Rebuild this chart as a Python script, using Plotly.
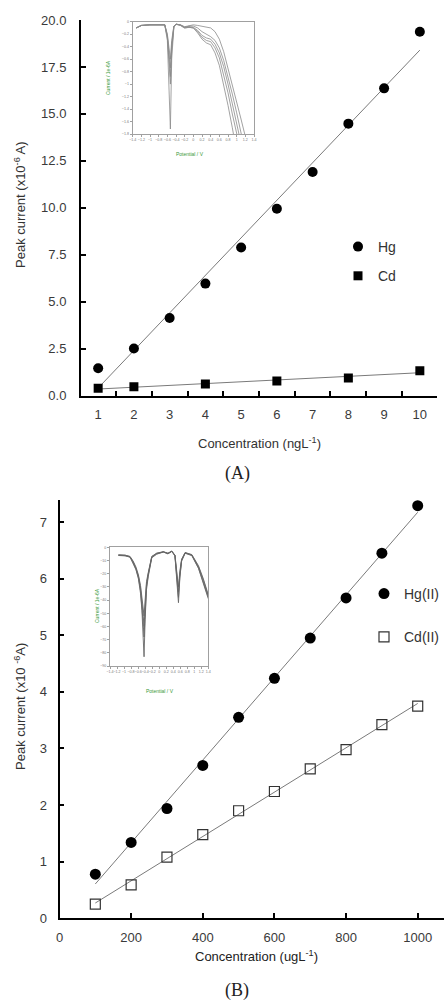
import numpy as np
import plotly.graph_objects as go

# ---------------- Panel A data ----------------
conc_a_hg = [1, 2, 3, 4, 5, 6, 7, 8, 9, 10]
peak_a_hg = [1.45, 2.50, 4.13, 5.96, 7.88, 9.95, 11.90, 14.48, 16.36, 19.37]
conc_a_cd = [1, 2, 4, 6, 8, 10]
peak_a_cd = [0.38, 0.47, 0.61, 0.77, 0.93, 1.32]
xticks_a = [1, 2, 3, 4, 5, 6, 7, 8, 9, 10]
yticks_a = [0.0, 2.5, 5.0, 7.5, 10.0, 12.5, 15.0, 17.5, 20.0]

# inset A (stripping voltammograms)
pot_a = [-1.32, -1.2, -1.0, -0.8, -0.66, -0.6, -0.56, -0.53, -0.5, -0.45, -0.4, -0.3, -0.2, -0.1,
         0.0, 0.1, 0.2, 0.3, 0.4, 0.5, 0.6, 0.7, 0.8, 0.9, 1.0, 1.1, 1.2, 1.3]
cur_a1 = [-0.10, -0.06, -0.05, -0.05, -0.05, -0.20, -0.48, -0.60, -0.30, -0.07, -0.04, -0.05, -0.08, -0.06,
          -0.05, -0.06, -0.07, -0.08, -0.10, -0.16, -0.28, -0.48, -0.74, -1.00, -1.28, -1.56, -1.84, -2.10]
cur_a2 = [-0.10, -0.06, -0.05, -0.05, -0.05, -0.22, -0.58, -0.74, -0.36, -0.07, -0.04, -0.05, -0.09, -0.07,
          -0.07, -0.10, -0.16, -0.20, -0.24, -0.30, -0.42, -0.62, -0.88, -1.16, -1.46, -1.78, -2.10, -2.10]
cur_a3 = [-0.10, -0.06, -0.05, -0.05, -0.05, -0.24, -0.66, -0.88, -0.42, -0.08, -0.04, -0.05, -0.09, -0.08,
          -0.09, -0.14, -0.22, -0.26, -0.28, -0.36, -0.50, -0.72, -1.00, -1.30, -1.62, -1.95, -2.10, -2.10]
cur_a4 = [-0.10, -0.06, -0.05, -0.05, -0.05, -0.26, -0.74, -1.00, -0.46, -0.08, -0.04, -0.06, -0.10, -0.09,
          -0.10, -0.16, -0.25, -0.30, -0.32, -0.42, -0.58, -0.84, -1.14, -1.48, -1.82, -2.10, -2.10, -2.10]
cur_a5 = [-0.10, -0.06, -0.05, -0.05, -0.05, -0.30, -0.95, -1.72, -0.60, -0.09, -0.04, -0.06, -0.10, -0.09,
          -0.10, -0.18, -0.28, -0.34, -0.37, -0.50, -0.70, -1.00, -1.34, -1.70, -2.10, -2.10, -2.10, -2.10]

# ---------------- Panel B data ----------------
conc_b = [100, 200, 300, 400, 500, 600, 700, 800, 900, 1000]
peak_b_hg = [0.78, 1.34, 1.94, 2.70, 3.55, 4.24, 4.95, 5.66, 6.45, 7.29]
peak_b_cd = [0.25, 0.59, 1.08, 1.48, 1.90, 2.24, 2.64, 2.98, 3.42, 3.75]
xticks_b = [0, 200, 400, 600, 800, 1000]
yticks_b = [0, 1, 2, 3, 4, 5, 6, 7]

# inset B
pot_b = [-1.16, -0.97, -0.83, -0.74, -0.66, -0.59, -0.53, -0.49, -0.46, -0.43, -0.40, -0.36, -0.31, -0.26,
         -0.21, -0.07, 0.02, 0.12, 0.25, 0.36, 0.45, 0.49, 0.55, 0.59, 0.64, 0.74, 0.93, 1.12, 1.26, 1.40]
cur_b1 = [-5.8, -6.0, -7.0, -10.5, -15, -21, -29, -37, -45, -52, -40, -26, -19, -12,
          -7, -4.5, -4.0, -3.5, -4.5, -3.0, -6.0, -17, -30, -18, -9.0, -4.0, -5.5, -14, -24, -36]
cur_b2 = [-5.8, -6.0, -7.0, -11, -16, -22, -31, -40, -50, -60, -44, -28, -20, -13,
          -7, -4.5, -4.0, -3.3, -4.5, -2.8, -6.0, -19, -34, -20, -9.5, -4.0, -5.8, -14.7, -25, -37]
cur_b3 = [-6.0, -6.3, -7.3, -11.5, -16.5, -23, -33, -44, -56, -68, -48, -30, -21, -13.5,
          -7.5, -5, -4.3, -3.5, -4.8, -3.0, -6.3, -21, -38, -22, -10, -4.3, -6, -15.5, -26, -38]
cur_b4 = [-6.2, -6.5, -7.5, -12, -17, -24, -35, -48, -64, -83, -55, -32, -22, -14,
          -8, -5.2, -4.5, -3.6, -5, -3.2, -6.5, -23, -42, -23, -10.5, -4.5, -6.3, -16, -27, -39]

W, H = 444, 1001


def px(x):
    return x / W


def py(y):
    return 1 - y / H


def fit(xs, ys):
    k, b = np.polyfit(xs, ys, 1)
    xx = np.array([min(xs), max(xs)], dtype=float)
    return xx, k * xx + b


fig = go.Figure()

LINE = dict(color="#7a7a7a", width=1)
SANS = "Liberation Sans, Arial, sans-serif"

# ----- Panel A -----
for xs, ys in [(conc_a_hg, peak_a_hg), (conc_a_cd, peak_a_cd)]:
    fx, fy = fit(xs, ys)
    fig.add_trace(go.Scatter(x=fx, y=fy, mode="lines", line=LINE, showlegend=False,
                             hoverinfo="skip", xaxis="x", yaxis="y"))
fig.add_trace(go.Scatter(x=conc_a_hg, y=peak_a_hg, mode="markers", name="Hg",
                         marker=dict(symbol="circle", size=10, color="black"),
                         legendgroup="ahg", legend="legend", xaxis="x", yaxis="y"))
fig.add_trace(go.Scatter(x=conc_a_cd, y=peak_a_cd, mode="markers", name="Cd",
                         marker=dict(symbol="square", size=9, color="black"),
                         legendgroup="acd", legend="legend", xaxis="x", yaxis="y"))

for c in [cur_a1, cur_a2, cur_a3, cur_a4, cur_a5]:
    fig.add_trace(go.Scatter(x=pot_a, y=c, mode="lines", line=dict(color="#8a8a8a", width=0.8),
                             showlegend=False, hoverinfo="skip", xaxis="x2", yaxis="y2"))

# ----- Panel B -----
for ys in [peak_b_hg, peak_b_cd]:
    fx, fy = fit(conc_b, ys)
    fig.add_trace(go.Scatter(x=fx, y=fy, mode="lines", line=LINE, showlegend=False,
                             hoverinfo="skip", xaxis="x3", yaxis="y3"))
fig.add_trace(go.Scatter(x=conc_b, y=peak_b_hg, mode="markers", name="Hg(II)",
                         marker=dict(symbol="circle", size=11, color="black"),
                         legendgroup="bhg", legend="legend2", xaxis="x3", yaxis="y3"))
fig.add_trace(go.Scatter(x=conc_b, y=peak_b_cd, mode="markers", name="Cd(II)",
                         marker=dict(symbol="square-open", size=10, color="#333",
                                     line=dict(width=1.2, color="#333")),
                         legendgroup="bcd", legend="legend2", xaxis="x3", yaxis="y3"))

for c in [cur_b1, cur_b2, cur_b3, cur_b4]:
    fig.add_trace(go.Scatter(x=pot_b, y=c, mode="lines", line=dict(color="#666", width=0.9),
                             showlegend=False, hoverinfo="skip", xaxis="x4", yaxis="y4"))

TICKFONT = dict(family=SANS, size=13, color="#3a3a3a")
main_axis = dict(showline=True, linecolor="black", linewidth=2, showgrid=False, zeroline=False,
                 tickfont=TICKFONT, tickcolor="black")
inset_axis = dict(showline=True, mirror=True, linecolor="#a0a0a0", linewidth=1, showgrid=False,
                  zeroline=False, ticks="outside", ticklen=2, tickwidth=0.8, tickcolor="#a0a0a0",
                  tickangle=0, tickfont=dict(family=SANS, size=3.6, color="#777"))

fig.update_layout(
    width=W, height=H,
    margin=dict(l=0, r=0, t=0, b=0, autoexpand=False),
    paper_bgcolor="white", plot_bgcolor="white",
    font=dict(family=SANS, color="#333"),
    xaxis=dict(main_axis, domain=[px(81), px(437)], range=[0.52, 10.48], anchor="y",
               tickmode="array", tickvals=xticks_a, ticks="",
               minor=dict(tickmode="array", tickvals=[v + 0.5 for v in xticks_a[:-1]],
                          ticks="inside", ticklen=5, tickwidth=2, tickcolor="black"),
               ticklabelstandoff=6),
    yaxis=dict(main_axis, domain=[py(395.5), py(20)], range=[0, 20], anchor="x",
               tickmode="array", tickvals=yticks_a, tickformat=".1f",
               ticks="inside", ticklen=5, tickwidth=2, ticklabelstandoff=10),
    xaxis2=dict(inset_axis, domain=[px(132.7), px(254)], range=[-1.4, 1.4], anchor="y2",
                tickmode="linear", tick0=-1.4, dtick=0.2),
    yaxis2=dict(inset_axis, domain=[py(134), py(21.7)], range=[-1.8, 0], anchor="x2",
                tickmode="linear", tick0=0, dtick=0.2),
    xaxis3=dict(main_axis, domain=[px(59.5), px(443.5)], range=[0, 1072], anchor="y3",
                tickmode="array", tickvals=xticks_b, ticks="inside", ticklen=5, tickwidth=2,
                ticklabelstandoff=6),
    yaxis3=dict(main_axis, domain=[py(918.3), py(500)], range=[0, 7.39], anchor="x3",
                tickmode="array", tickvals=yticks_b, ticks="inside", ticklen=4, tickwidth=2,
                ticklabelstandoff=8),
    xaxis4=dict(inset_axis, domain=[px(110), px(208.3)], range=[-1.4, 1.4], anchor="y4",
                tickmode="linear", tick0=-1.4, dtick=0.2),
    yaxis4=dict(inset_axis, domain=[py(666), py(547.3)], range=[-90, 0], anchor="x4",
                tickmode="linear", tick0=0, dtick=10),
    legend=dict(x=px(338), y=py(231), xanchor="left", yanchor="top", bgcolor="rgba(0,0,0,0)",
                font=dict(family=SANS, size=14, color="#333"), tracegroupgap=8),
    legend2=dict(x=px(364), y=py(578), xanchor="left", yanchor="top", bgcolor="rgba(0,0,0,0)",
                 font=dict(family=SANS, size=14, color="#333"), tracegroupgap=22),
)

ann = [
    dict(text="Peak current (x10<sup>-6</sup> A)", x=px(20), y=py(205), textangle=-90,
         font=dict(size=13, color="#333")),
    dict(text="Concentration (ngL<sup>-1</sup>)", x=px(259), y=py(443), font=dict(size=13, color="#333")),
    dict(text="(A)", x=px(237), y=py(474), font=dict(family="Liberation Serif, serif", size=18, color="#222")),
    dict(text="Peak current (x10 <sup>-6</sup>A)", x=px(20), y=py(707), textangle=-90,
         font=dict(size=13, color="#333")),
    dict(text="Concentration (ugL<sup>-1</sup>)", x=px(256), y=py(956), font=dict(size=13, color="#222")),
    dict(text="(B)", x=px(237), y=py(990), font=dict(family="Liberation Serif, serif", size=18, color="#222")),
    dict(text="Potential / V", x=px(190), y=py(154), font=dict(size=5, color="#3a9a3a")),
    dict(text="Current / 1e-6A", x=px(108), y=py(78), textangle=-90, font=dict(size=5, color="#3a9a3a")),
    dict(text="Potential / V", x=px(160), y=py(691), font=dict(size=5, color="#3a9a3a")),
    dict(text="Current / 1e-6A", x=px(97), y=py(606), textangle=-90, font=dict(size=5, color="#3a9a3a")),
]
for a in ann:
    a.update(xref="paper", yref="paper", showarrow=False, xanchor="center", yanchor="middle")
    fig.add_annotation(**a)

fig.write_html("out.html", config={"displayModeBar": False},
               post_script="document.body.style.margin='0';document.body.style.overflow='hidden';")
